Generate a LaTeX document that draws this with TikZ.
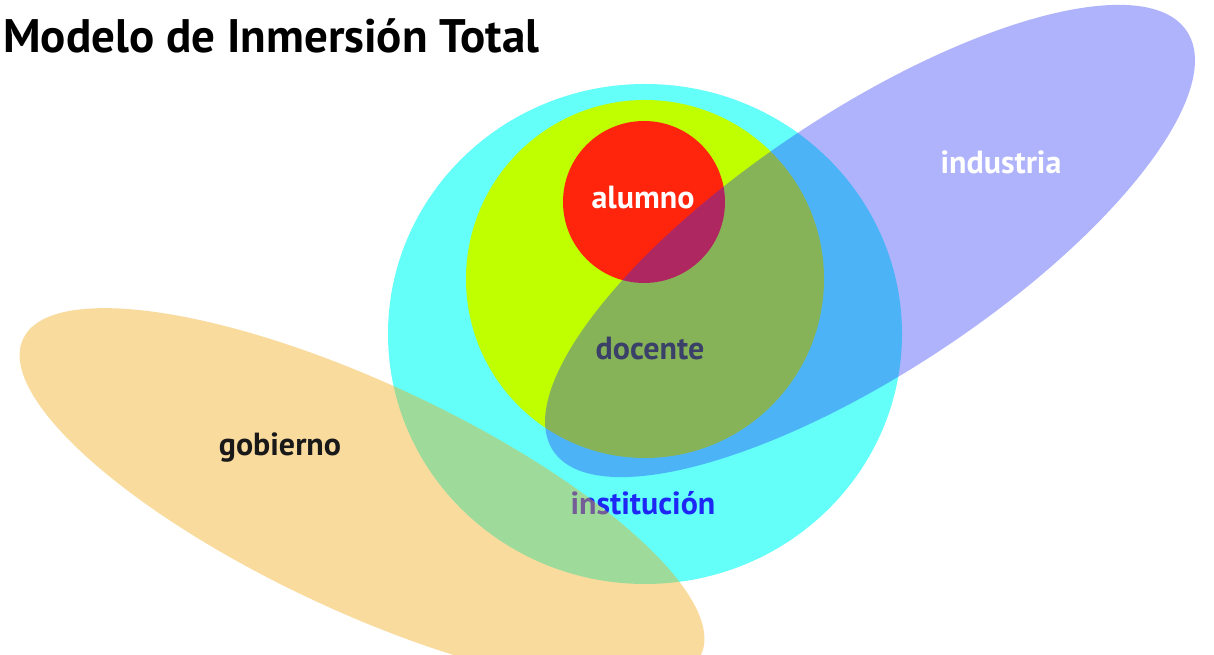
\documentclass[tikz,border=0pt]{standalone}
\usepackage{fontspec}
\setmainfont{PT Sans}
\definecolor{cyanc}{RGB}{100,255,248}
\definecolor{limec}{RGB}{192,255,0}
\definecolor{redc}{RGB}{255,36,12}
\definecolor{bluec}{RGB}{36,47,246}
\definecolor{orangec}{RGB}{243,169,21}
\definecolor{docc}{RGB}{58,64,104}
\definecolor{instc}{RGB}{30,40,245}
\tikzset{
  lbl/.style={font=\fontsize{32}{36}\selectfont\bfseries, inner sep=0pt},
  ttl/.style={font=\fontsize{47}{52}\selectfont\bfseries, inner sep=0pt, anchor=west}
}
\begin{document}
\begin{tikzpicture}[x=1pt,y=1pt]
\useasboundingbox (0,0) rectangle (1214,655);
\fill[white] (0,0) rectangle (1214,655);
% circles
\fill[cyanc] (645,321) ellipse [x radius=257, y radius=250];
\fill[limec] (645,376) circle [radius=179];
\fill[redc] (644,453) circle [radius=81];
% industria ellipse (translucent)
\fill[bluec, fill opacity=0.36] (870,414) ellipse [x radius=380, y radius=130, rotate=33.5];
% institucion label (under the gobierno ellipse)
\node[lbl, text=instc] (inst) at (643,152) {institución};
% gobierno ellipse (translucent)
\fill[orangec, fill opacity=0.41] (362,158) ellipse [x radius=374, y radius=114, rotate=-25];
% labels
\node[ttl] (title) at (3,619) {Modelo de Inmersión Total};
\node[lbl, text=white] (alumno) at (643,457) {alumno};
\node[lbl, text=docc] (docente) at (650,306) {docente};
\node[lbl, text=white] (industria) at (1001,493) {industria};
\node[lbl, text=black!90] (gobierno) at (280,207) {gobierno};
\end{tikzpicture}
\end{document}
